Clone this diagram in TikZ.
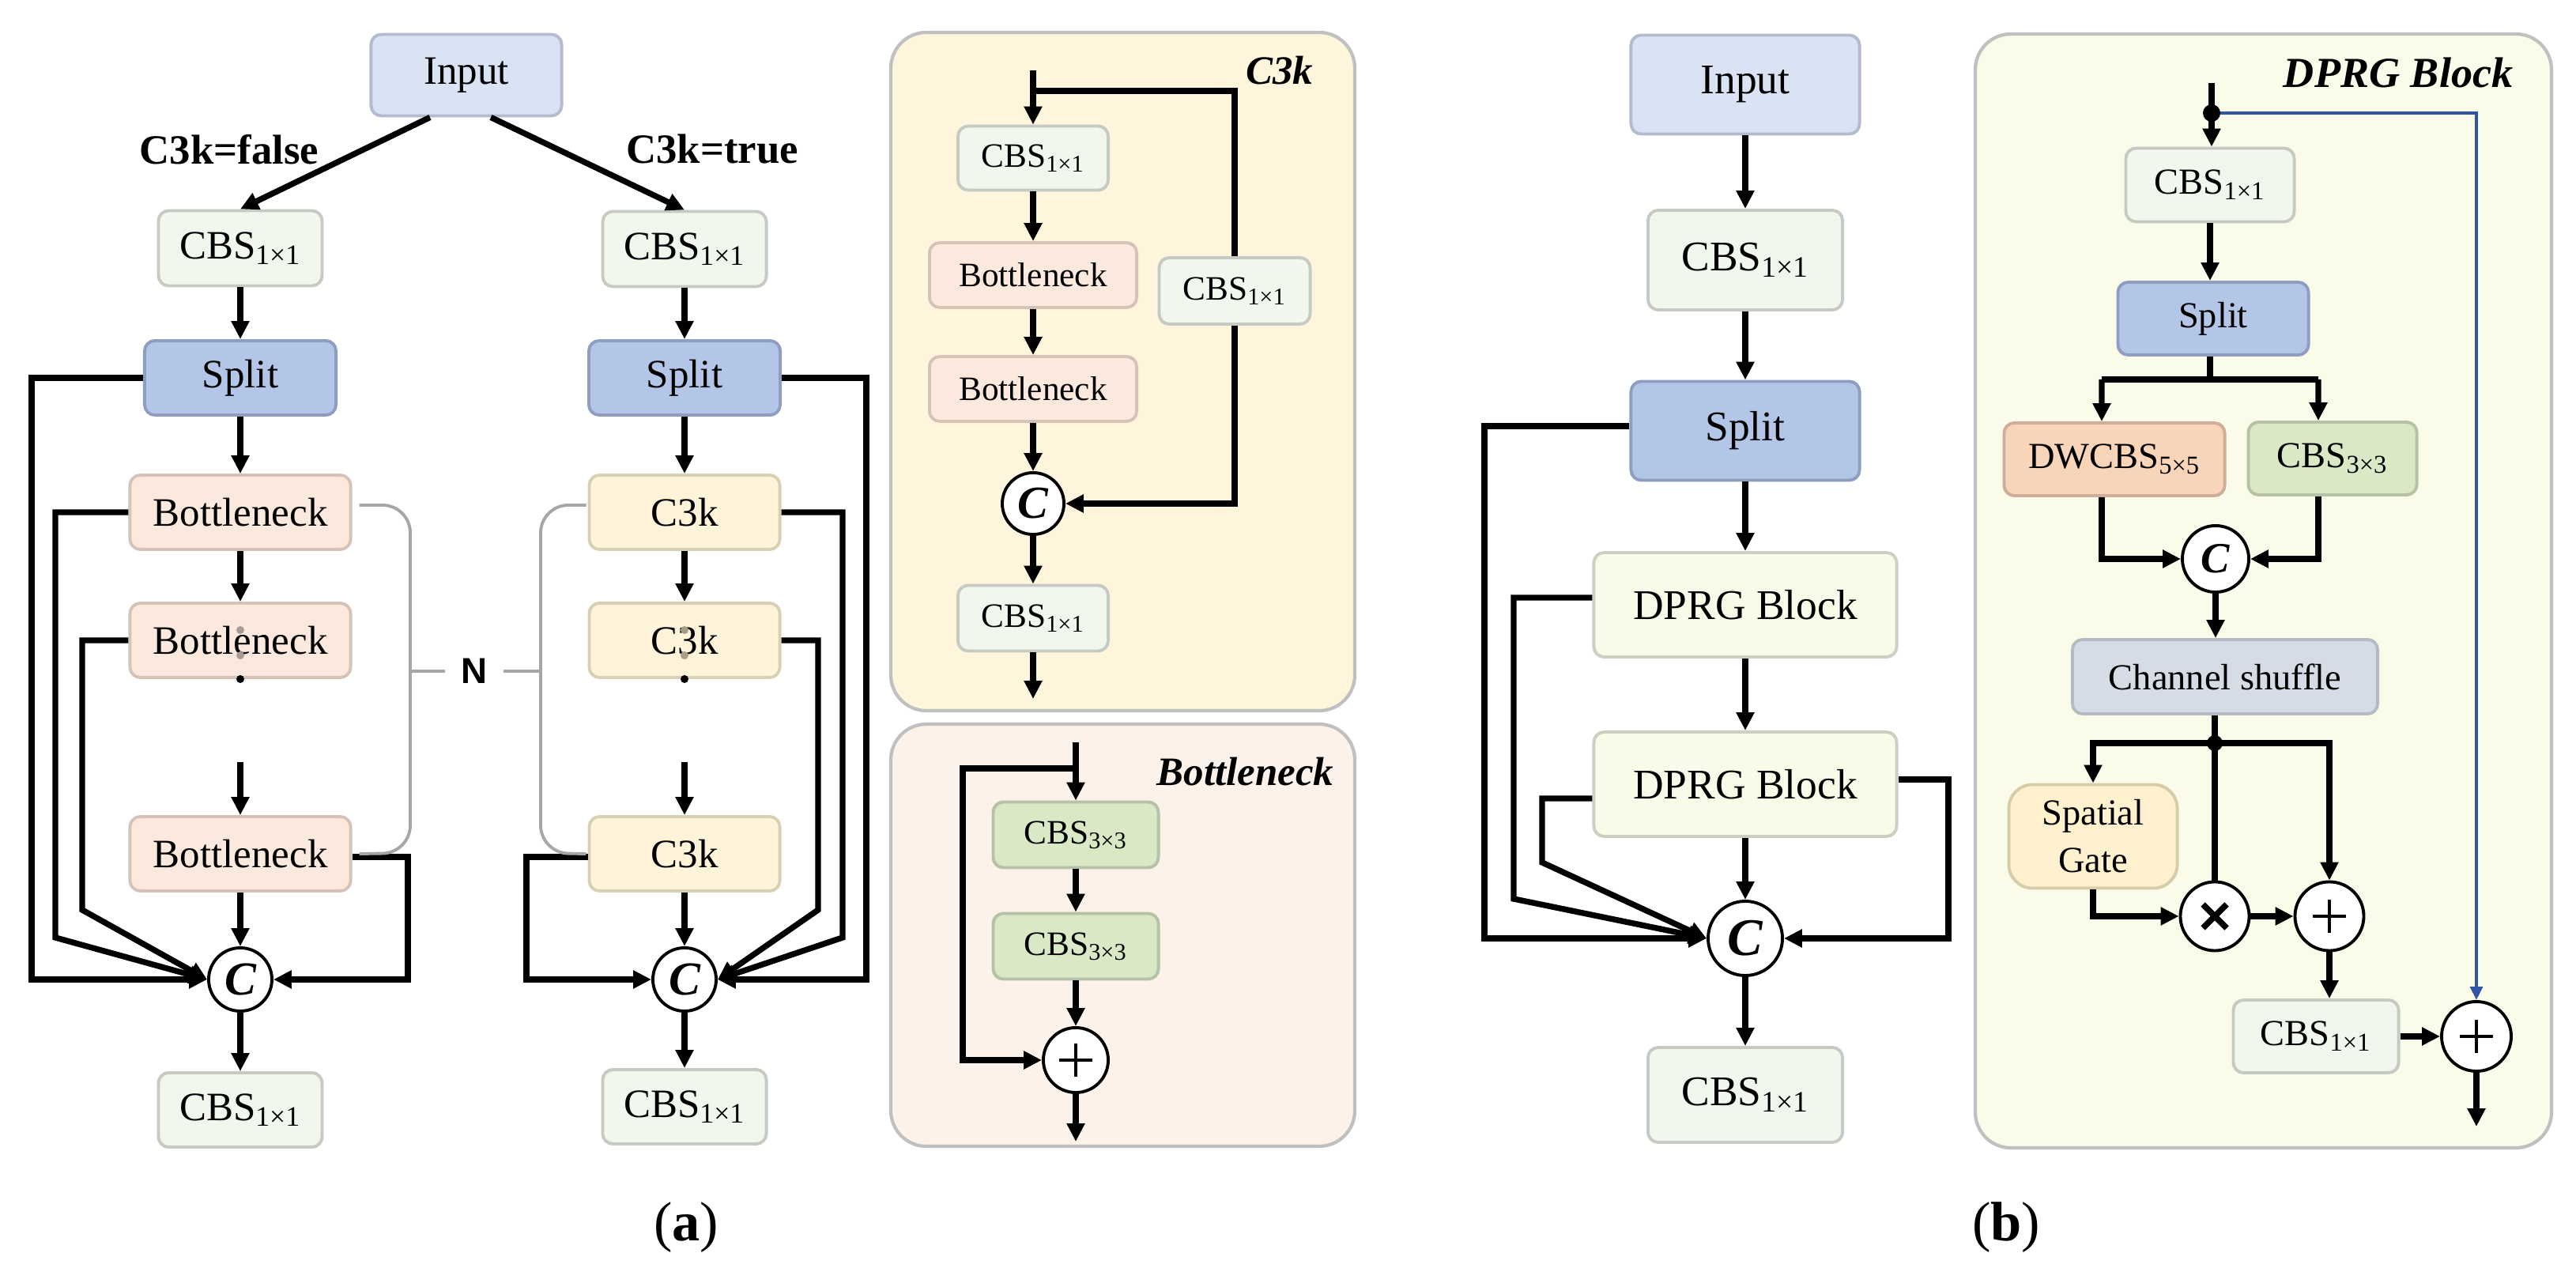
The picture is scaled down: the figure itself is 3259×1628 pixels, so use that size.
\documentclass[tikz,border=0pt]{standalone}
\usepackage{fontspec}
\setmainfont{Liberation Serif}
\newfontfamily\sansN{Liberation Sans}
\usetikzlibrary{arrows.meta,calc}
\definecolor{cIn}{HTML}{DAE3F3}
\definecolor{cInB}{HTML}{B3BBCC}
\definecolor{cCbs}{HTML}{F2F7EE}
\definecolor{cCbsB}{HTML}{C6CAC2}
\definecolor{cSpl}{HTML}{B4C6E7}
\definecolor{cSplB}{HTML}{8E9DC0}
\definecolor{cBot}{HTML}{FCE9DE}
\definecolor{cBotB}{HTML}{D5C3B8}
\definecolor{cK}{HTML}{FFF4DA}
\definecolor{cKB}{HTML}{D8D0B4}
\definecolor{cDp}{HTML}{F9FAE8}
\definecolor{cDpB}{HTML}{CDD0C0}
\definecolor{cCtt}{HTML}{D9E8C5}
\definecolor{cCttB}{HTML}{B5C2A6}
\definecolor{cDw}{HTML}{F8D5B8}
\definecolor{cDwB}{HTML}{D0AD98}
\definecolor{cCs}{HTML}{D6DCE5}
\definecolor{cCsB}{HTML}{B5BBC4}
\definecolor{cSg}{HTML}{FFF1CE}
\definecolor{cSgB}{HTML}{D6CCA8}
\definecolor{pK}{HTML}{FFF5DC}
\definecolor{pB}{HTML}{FCF2EA}
\definecolor{pD}{HTML}{FAFBE9}
\definecolor{pBd}{HTML}{C0C0C0}
\definecolor{brkc}{HTML}{A6A6A6}
\definecolor{blu}{HTML}{2F55A4}
\definecolor{dotA}{HTML}{A89C92}
\definecolor{dotB}{HTML}{A89E88}
\newcommand{\sbx}[1]{\textsubscript{#1}}
\tikzset{
 box/.style={draw, rounded corners=0.13cm, line width=1.1pt, inner sep=0pt, align=center},
 inb/.style={box, fill=cIn, draw=cInB},
 cbs/.style={box, fill=cCbs, draw=cCbsB},
 spl/.style={box, fill=cSpl, draw=cSplB},
 bot/.style={box, fill=cBot, draw=cBotB},
 kbx/.style={box, fill=cK, draw=cKB},
 dpb/.style={box, fill=cDp, draw=cDpB},
 ctt/.style={box, fill=cCtt, draw=cCttB},
 dwb/.style={box, fill=cDw, draw=cDwB},
 csb/.style={box, fill=cCs, draw=cCsB},
 sgb/.style={box, fill=cSg, draw=cSgB, rounded corners=0.3cm},
 pnl/.style={draw=pBd, line width=1.2pt, rounded corners=0.45cm},
 fa/.style={font=\fontsize{14.5}{16}\selectfont},
 fk/.style={font=\fontsize{12.3}{14}\selectfont},
 fb/.style={font=\fontsize{15.2}{17}\selectfont},
 fd/.style={font=\fontsize{13.2}{15}\selectfont},
 lbl/.style={font=\fontsize{15}{17}\selectfont\bfseries},
 ttl/.style={font=\fontsize{14.5}{16}\selectfont\bfseries\itshape, inner sep=0pt},
 cc/.style={circle, draw, line width=1.1pt, fill=white, inner sep=0pt, minimum size=#1},
 pls/.style={circle, draw, line width=1.1pt, fill=white, inner sep=0pt, minimum size=#1,
   path picture={\draw[line width=1.4pt]
     ([xshift=-0.21cm]path picture bounding box.center) -- ([xshift=0.21cm]path picture bounding box.center)
     ([yshift=-0.21cm]path picture bounding box.center) -- ([yshift=0.21cm]path picture bounding box.center);}},
 tms/.style={circle, draw, line width=1.1pt, fill=white, inner sep=0pt, minimum size=#1,
   path picture={\draw[line width=2.2pt]
     ([shift={(-0.15cm,-0.15cm)}]path picture bounding box.center) -- ([shift={(0.15cm,0.15cm)}]path picture bounding box.center)
     ([shift={(-0.15cm,0.15cm)}]path picture bounding box.center) -- ([shift={(0.15cm,-0.15cm)}]path picture bounding box.center);}},
 ar/.style={line width=2.1pt, -{Triangle[length=6.5pt,width=6.2pt]}},
 ln/.style={line width=2.1pt},
 bar/.style={draw=blu, line width=1.2pt, -{Triangle[length=4.8pt,width=4.4pt]}},
 brk/.style={draw=brkc, line width=1.1pt, rounded corners=0.35cm},
}
\begin{document}
\begin{tikzpicture}[x=0.01cm, y=-0.01cm]
\useasboundingbox (0,0) rectangle (3259,1628);

% ================= panel (a), left part =================
\node[inb, fa, minimum width=2.41cm, minimum height=1.03cm] (inA) at (590,95) {Input};
\node[lbl] (lf) at (290,189) {C3k=false};
\node[lbl] (lt) at (901,189) {C3k=true};
\node[cbs, fa, minimum width=2.07cm, minimum height=0.95cm] (cbsL) at (304,314) {CBS\sbx{1×1}};
\node[cbs, fa, minimum width=2.07cm, minimum height=0.95cm] (cbsR) at (866,315) {CBS\sbx{1×1}};
\node[spl, fa, minimum width=2.42cm, minimum height=0.94cm] (splL) at (304,478) {Split};
\node[spl, fa, minimum width=2.42cm, minimum height=0.94cm] (splR) at (866,478) {Split};
\node[bot, fa, minimum width=2.79cm, minimum height=0.94cm] (bL1) at (304,648) {Bottleneck};
\node[bot, fa, minimum width=2.79cm, minimum height=0.94cm] (bL2) at (304,810) {Bottleneck};
\node[bot, fa, minimum width=2.79cm, minimum height=0.94cm] (bL3) at (304,1080) {Bottleneck};
\node[kbx, fa, minimum width=2.41cm, minimum height=0.94cm] (kR1) at (866,648) {C3k};
\node[kbx, fa, minimum width=2.41cm, minimum height=0.94cm] (kR2) at (866,810) {C3k};
\node[kbx, fa, minimum width=2.41cm, minimum height=0.94cm] (kR3) at (866,1080) {C3k};
\node[cc=0.8cm, font=\fontsize{17}{17}\selectfont\bfseries\itshape] (cL) at (304,1239) {C};
\node[cc=0.8cm, font=\fontsize{17}{17}\selectfont\bfseries\itshape] (cR) at (866,1239) {C};
\node[cbs, fa, minimum width=2.07cm, minimum height=0.94cm] (cbsL2) at (304,1404) {CBS\sbx{1×1}};
\node[cbs, fa, minimum width=2.07cm, minimum height=0.94cm] (cbsR2) at (866,1400) {CBS\sbx{1×1}};

% dots
\fill[dotA] (304,797) circle (0.05cm);
\fill[dotA] (304,829) circle (0.05cm);
\fill[black] (304,859) circle (0.05cm);
\fill[dotB] (866,797) circle (0.05cm);
\fill[dotB] (866,829) circle (0.05cm);
\fill[black] (866,859) circle (0.05cm);
\coordinate (dA) at (304,964);
\coordinate (dB) at (866,964);

\draw[ar] ([xshift=-0.46cm]inA.south) -- (cbsL.north);
\draw[ar] ([xshift=0.31cm]inA.south) -- (cbsR.north);
\draw[ar] (cbsL) -- (splL);
\draw[ar] (cbsR) -- (splR);
\draw[ar] (splL) -- (bL1);
\draw[ar] (splR) -- (kR1);
\draw[ar] (bL1) -- (bL2);
\draw[ar] (kR1) -- (kR2);
\draw[ar] (dA) -- (bL3.north);
\draw[ar] (dB) -- (kR3.north);
\draw[ar] (bL3) -- (cL);
\draw[ar] (kR3) -- (cR);
\draw[ar] (cL) -- (cbsL2);
\draw[ar] (cR) -- (cbsR2);

% skip connections (left)
\draw[ar] (splL.west) -| (40,1239) -- (cL.west);
\draw[ar] (bL1.west) -| (70,1186) -- (cL.west);
\draw[ar] (bL2.west) -| (104,1151) -- (cL.west);
\draw[ar] ([yshift=-0.04cm]bL3.east) -| (516,1239) -- (cL.east);
% skip connections (right)
\draw[ar] (splR.east) -| (1096,1239) -- (cR.east);
\draw[ar] (kR1.east) -| (1066,1186) -- (cR.east);
\draw[ar] (kR2.east) -| (1035,1151) -- (cR.east);
\draw[ar] ([yshift=-0.04cm]kR3.west) -| (666,1239) -- (cR.west);

% N brackets
\node[font=\fontsize{13}{14}\selectfont\sansN\bfseries, inner sep=0pt] (N) at (600,849) {N};
\draw[brk] ([xshift=0.09cm,yshift=0.09cm]bL1.east) -- (519,639) -- (519,1079) -- ([xshift=0.09cm]bL3.east);
\draw[brk] ([xshift=-0.02cm,yshift=0.09cm]kR1.west) -- (684,639) -- (684,1079) -- ([xshift=-0.02cm]kR3.west);
\draw[draw=brkc, line width=1.1pt] (519,849) -- ([xshift=-0.2cm]N.west);
\draw[draw=brkc, line width=1.1pt] ([xshift=0.2cm]N.east) -- (684,849);

\node[font=\fontsize{20}{22}\selectfont, inner sep=0pt] (capA) at (868,1553) {(\textbf{a})};

% ================= C3k panel =================
\draw[pnl, fill=pK] (1127,41) rectangle (1714,899);
\node[ttl, anchor=east] (tK) at (1662,89) {C3k};
\coordinate (kin) at (1307,89);
\coordinate (kbr) at (1307,115);
\node[cbs, fk, minimum width=1.9cm, minimum height=0.81cm] (kc1) at (1307,200) {CBS\sbx{1×1}};
\node[bot, fk, minimum width=2.62cm, minimum height=0.82cm] (kb1) at (1307,348) {Bottleneck};
\node[bot, fk, minimum width=2.62cm, minimum height=0.82cm] (kb2) at (1307,492) {Bottleneck};
\node[cbs, fk, minimum width=1.91cm, minimum height=0.84cm] (kcR) at (1562,368) {CBS\sbx{1×1}};
\node[cc=0.78cm, font=\fontsize{16.5}{17}\selectfont\bfseries\itshape] (kC) at (1307,637) {C};
\node[cbs, fk, minimum width=1.9cm, minimum height=0.83cm] (kc2) at (1307,782) {CBS\sbx{1×1}};
\coordinate (kout) at (1307,884);
\draw[ar] (kin) -- (kc1.north);
\draw[ln] (kbr) -| (kcR.north);
\draw[ar] (kc1) -- (kb1);
\draw[ar] (kb1) -- (kb2);
\draw[ar] (kb2) -- (kC);
\draw[ar] (kC) -- (kc2);
\draw[ar] (kc2) -- (kout);
\draw[ar] (kcR.south) |- (kC.east);

% ================= Bottleneck panel =================
\draw[pnl, fill=pB] (1127,916) rectangle (1714,1450);
\node[ttl, anchor=east] (tB) at (1688,976) {Bottleneck};
\coordinate (bin) at (1361,939);
\coordinate (bbr) at (1361,972);
\node[ctt, fk, minimum width=2.09cm, minimum height=0.83cm] (bc1) at (1361,1056) {CBS\sbx{3×3}};
\node[ctt, fk, minimum width=2.09cm, minimum height=0.83cm] (bc2) at (1361,1197) {CBS\sbx{3×3}};
\node[pls=0.82cm] (bP) at (1361,1341) {};
\coordinate (bout) at (1361,1444);
\draw[ar] (bin) -- (bc1.north);
\draw[ar] (bbr) -| (1218,1341) -- (bP.west);
\draw[ar] (bc1) -- (bc2);
\draw[ar] (bc2) -- (bP);
\draw[ar] (bP) -- (bout);

% ================= panel (b), main =================
\node[inb, fb, minimum width=2.89cm, minimum height=1.25cm] (bIn) at (2208,107) {Input};
\node[cbs, fb, minimum width=2.46cm, minimum height=1.26cm] (bCbs) at (2208,329) {CBS\sbx{1×1}};
\node[spl, fb, minimum width=2.89cm, minimum height=1.25cm] (bSpl) at (2208,545) {Split};
\node[dpb, fb, minimum width=3.83cm, minimum height=1.32cm] (bD1) at (2208,765) {DPRG Block};
\node[dpb, fb, minimum width=3.83cm, minimum height=1.32cm] (bD2) at (2208,992) {DPRG Block};
\node[cc=0.94cm, font=\fontsize{19}{19}\selectfont\bfseries\itshape] (bC) at (2208,1187) {C};
\node[cbs, fb, minimum width=2.46cm, minimum height=1.2cm] (bCbs2) at (2208,1385) {CBS\sbx{1×1}};
\draw[ar] (bIn) -- (bCbs);
\draw[ar] (bCbs) -- (bSpl);
\draw[ar] (bSpl) -- (bD1);
\draw[ar] (bD1) -- (bD2);
\draw[ar] (bD2) -- (bC);
\draw[ar] (bC) -- (bCbs2);
\draw[ar] ([yshift=0.06cm]bSpl.west) -| (1878,1187) -- (bC.west);
\draw[ar] ([yshift=0.09cm]bD1.west) -| (1915,1137) -- (bC.west);
\draw[ar] ([yshift=-0.18cm]bD2.west) -| (1951,1091) -- (bC.west);
\draw[ar] ([yshift=0.06cm]bD2.east) -| (2465,1187) -- (bC.east);
\node[font=\fontsize{20}{22}\selectfont, inner sep=0pt] (capB) at (2538,1553) {(\textbf{b})};

% ================= DPRG panel =================
\draw[pnl, fill=pD] (2499,43) rectangle (3228,1452);
\node[ttl, font=\fontsize{15.4}{17}\selectfont\bfseries\itshape, anchor=east] (tD) at (3180,92) {DPRG Block};
\coordinate (dIn) at (2798,105);
\coordinate (dj0) at (2798,143);
\node[cbs, fd, minimum width=2.13cm, minimum height=0.93cm] (dCbs) at (2796,234) {CBS\sbx{1×1}};
\node[spl, fd, minimum width=2.41cm, minimum height=0.92cm] (dSpl) at (2800,403) {Split};
\coordinate (dbr) at (2796,480);
\node[dwb, fd, minimum width=2.79cm, minimum height=0.92cm] (dDw) at (2675,581) {DWCBS\sbx{5×5}};
\node[ctt, fd, minimum width=2.13cm, minimum height=0.92cm] (dC3) at (2951,580) {CBS\sbx{3×3}};
\node[cc=0.84cm, font=\fontsize{15.5}{16}\selectfont\bfseries\itshape] (dC) at (2803,707) {C};
\node[csb, fd, minimum width=3.86cm, minimum height=0.94cm] (dCS) at (2815,856) {Channel shuffle};
\coordinate (dj) at (2802,940);
\node[sgb, fd, minimum width=2.13cm, minimum height=1.31cm, font=\fontsize{13.2}{17}\selectfont] (dSG) at (2648,1058) {Spatial\\Gate};
\node[tms=0.87cm] (dX) at (2802,1159) {};
\node[pls=0.87cm] (dP1) at (2947,1159) {};
\node[cbs, fd, minimum width=2.09cm, minimum height=0.92cm] (dCbs2) at (2930,1311) {CBS\sbx{1×1}};
\node[pls=0.88cm] (dP2) at (3133,1311) {};
\coordinate (dout) at (3133,1425);

\draw[ar] (dIn) -- (dCbs.north -| dIn);
\draw[bar] (dj0) -| (dP2.north);
\fill (dj0) circle (0.11cm);
\draw[ar] (dCbs) -- (dSpl.north -| dCbs);
\draw[ln] (dSpl.south -| dbr) -- (dbr);
\draw[ln] (2659,480) -- (2933,480);
\draw[ar] (2659,480) -- ([xshift=-0.16cm]dDw.north);
\draw[ar] (2933,480) -- ([xshift=-0.18cm]dC3.north);
\draw[ar] ([xshift=-0.16cm]dDw.south) |- (dC.west);
\draw[ar] ([xshift=-0.18cm]dC3.south) |- (dC.east);
\draw[ar] (dC.south) -- (dC.south |- dCS.north);
\draw[ln] (dj |- dCS.south) -- (dj);
\draw[ar] (dj) -| (dSG.north);
\draw[ar] (dj) -| (dP1.north);
\draw[ln] (dj) -- (dX.north);
\fill (dj) circle (0.1cm);
\draw[ar] (dSG.south) |- (dX.west);
\draw[ar] (dX) -- (dP1);
\draw[ar] (dP1.south) -- (dP1.south |- dCbs2.north);
\draw[ar] (dCbs2) -- (dP2);
\draw[ar] (dP2) -- (dout);
\end{tikzpicture}
\end{document}
